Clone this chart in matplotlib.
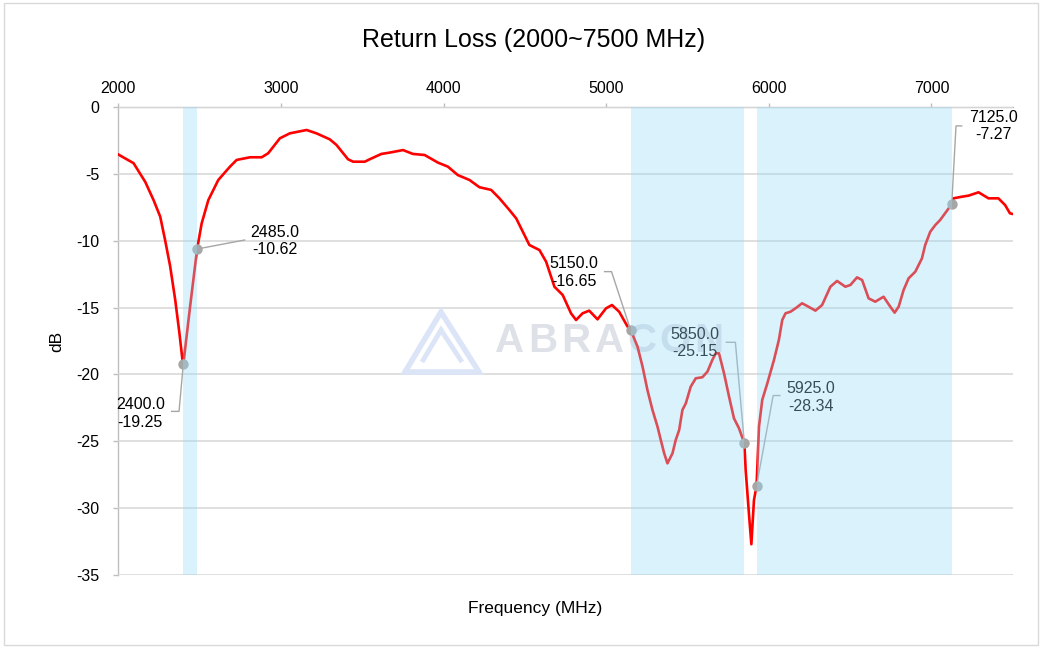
import matplotlib
matplotlib.use('Agg')
import matplotlib.pyplot as plt
from matplotlib.transforms import ScaledTranslation
from matplotlib.patches import Rectangle, Polygon

# ---------------- data ----------------
freq_mhz = [2000, 2094, 2166, 2217, 2258, 2288, 2319, 2350, 2376, 2397, 2400,
            2442, 2485, 2513, 2554, 2615, 2687, 2728, 2810, 2882, 2922, 2994,
            3055, 3158, 3219, 3301, 3342, 3413, 3444, 3516, 3546, 3618, 3669,
            3751, 3812, 3884, 3966, 4027, 4088, 4160, 4221, 4293, 4344, 4405,
            4447, 4487, 4528, 4590, 4631, 4682, 4733, 4784, 4815, 4855, 4896,
            4947, 4999, 5036, 5080, 5132, 5150, 5193, 5224, 5254, 5285, 5316,
            5336, 5357, 5377, 5408, 5428, 5449, 5469, 5490, 5520, 5551, 5592,
            5623, 5653, 5674, 5694, 5725, 5756, 5786, 5817, 5850, 5858, 5878,
            5893, 5909, 5925, 5940, 5960, 5991, 6032, 6062, 6083, 6103, 6134,
            6164, 6205, 6236, 6287, 6328, 6379, 6420, 6471, 6502, 6543, 6574,
            6614, 6655, 6706, 6747, 6774, 6799, 6829, 6860, 6901, 6942, 6962,
            6993, 7024, 7054, 7125, 7136, 7187, 7228, 7290, 7351, 7412, 7453,
            7483, 7500]
return_loss_db = [-3.55, -4.2, -5.6, -6.96, -8.2, -9.95, -11.9, -14.4, -16.9, -19.15, -19.25,
                  -14.9, -10.62, -8.7, -6.96, -5.46, -4.46, -3.96, -3.76, -3.76, -3.46, -2.34,
                  -1.97, -1.72, -1.97, -2.42, -2.84, -3.91, -4.09, -4.09, -3.91, -3.51, -3.41,
                  -3.22, -3.51, -3.59, -4.16, -4.46, -5.09, -5.46, -6.0, -6.2, -6.83, -7.70,
                  -8.33, -9.32, -10.32, -10.7, -11.57, -13.44, -14.06, -15.43, -15.93, -15.43, -15.23,
                  -15.88, -15.06, -14.81, -15.31, -16.43, -16.65, -17.92, -19.42, -21.17, -22.66, -23.91,
                  -24.9, -25.9, -26.65, -25.9, -24.9, -24.16, -22.66, -22.16, -20.92, -20.29, -20.21,
                  -19.79, -18.92, -18.42, -18.42, -19.92, -21.67, -23.28, -24.03, -25.15, -27.15, -30.39,
                  -32.7, -29.4, -28.34, -23.9, -21.9, -20.67, -18.92, -17.43, -15.93, -15.43, -15.31,
                  -15.06, -14.68, -14.88, -15.23, -14.81, -13.44, -13.01, -13.44, -13.31, -12.74, -12.94,
                  -14.31, -14.56, -14.19, -14.93, -15.38, -14.93, -13.69, -12.81, -12.32, -11.32, -10.32,
                  -9.33, -8.83, -8.45, -7.27, -6.83, -6.71, -6.63, -6.38, -6.83, -6.83, -7.33,
                  -7.95, -8.0]

band_starts = [2400, 5150, 5925]
band_ends = [2485, 5850, 7125]

marker_freqs = [2400.0, 2485.0, 5150.0, 5850.0, 5925.0, 7125.0]
marker_values = [-19.25, -10.62, -16.65, -25.15, -28.34, -7.27]

x_ticks = [2000, 3000, 4000, 5000, 6000, 7000]
y_ticks = [0, -5, -10, -15, -20, -25, -30, -35]

title = "Return Loss (2000~7500 MHz)"
x_label = "Frequency (MHz)"
y_label = "dB"

# label layout: pixel offsets from each marker (text centre, leader vertices)
label_text_offsets = [(-43, -49), (77.5, 8), (-56.5, 57), (-49.5, 100), (54, 88.4), (41.3, 78)]
label_leaders = [[(-4.3, -47), (-11.6, -47)],
                 [(47.5, 9)],
                 [(-19, 58), (-26, 58)],
                 [(-9, 101), (-18, 101)],
                 [(16.6, 90.4), (23.3, 90.4)],
                 [(4.3, 78.3), (10, 78.3)]]

# ---------------- figure ----------------
W, H = 1042, 648
plt.rcParams['font.family'] = ['Liberation Sans', 'DejaVu Sans']
fig = plt.figure(figsize=(W / 100, H / 100), dpi=100)
fig.patch.set_facecolor('white')
fig.add_artist(Rectangle((4 / W, 3 / H), (1038 - 4) / W, (645 - 3) / H,
                         transform=fig.transFigure, fill=False,
                         edgecolor='#d9d9d9', lw=1.0))

ax_l, ax_r, ax_t, ax_b = 118.25, 1012.7, 107, 575
ax = fig.add_axes([ax_l / W, 1 - ax_b / H, (ax_r - ax_l) / W, (ax_b - ax_t) / H])
ax.set_xlim(2000, 7500)
ax.set_ylim(-35, 0)

# watermark
wm_color = '#dfe1e8'
for i, ch in enumerate("ABRACON"):
    px = 493 + 16.5 + 33.2 * i
    ax.text((px - ax_l) / (ax_r - ax_l), (ax_b - 341) / (ax_b - ax_t), ch,
            transform=ax.transAxes, ha='center', va='center',
            fontsize=29, fontweight='bold', color=wm_color, zorder=1.2)
logo_c = '#dce5f7'
def pxpt(x, y):
    return ((x - ax_l) / (ax_r - ax_l), (ax_b - y) / (ax_b - ax_t))
outer = [pxpt(405, 372), pxpt(441, 312), pxpt(479, 372)]
ax.add_patch(Polygon(outer, closed=True, fill=False, edgecolor=logo_c, lw=4,
                     transform=ax.transAxes, zorder=1.1, joinstyle='miter'))
inner = [pxpt(422, 362), pxpt(441, 330), pxpt(462, 362)]
ax.add_patch(Polygon(inner, closed=False, fill=False, edgecolor=logo_c, lw=3.5,
                     transform=ax.transAxes, zorder=1.1))

# grid & spines
ax.set_axisbelow(True)
ax.yaxis.grid(True, color='#d9d9d9', lw=1.2, zorder=0)
ax.xaxis.grid(False)
for s in ['right', 'bottom']:
    ax.spines[s].set_visible(False)
for s in ['left', 'top']:
    ax.spines[s].set_color('#bfbfbf')
    ax.spines[s].set_linewidth(1.0)
    ax.spines[s].set_zorder(0.5)

ax.xaxis.tick_top()
ax.set_xticks(x_ticks)
ax.set_yticks(y_ticks)
ax.set_yticklabels([str(v) for v in y_ticks])
ax.tick_params(axis='x', direction='out', length=3, color='#bfbfbf', width=1,
               labelsize=11.5, pad=5, labelcolor='#000000')
ax.tick_params(axis='y', direction='out', length=3.6, color='#bfbfbf', width=1,
               labelsize=11.5, pad=10, labelcolor='#000000')

# curve
ax.plot(freq_mhz, return_loss_db, color='#ff0000', lw=1.9, zorder=2,
        solid_joinstyle='round')

# markers, leaders, labels
for f, v, toff, lead in zip(marker_freqs, marker_values, label_text_offsets, label_leaders):
    tr = fig.dpi_scale_trans + ScaledTranslation(f, v, ax.transData)
    xs = [0] + [p[0] / 100 for p in lead]
    ys = [0] + [p[1] / 100 for p in lead]
    ax.plot(xs, ys, color='#a6a6a6', lw=1.0, transform=tr, zorder=3, clip_on=False)
    ax.plot([f], [v], 'o', ms=7.5, color='#a6a6a6', mec='none', zorder=4)
    ax.text(toff[0] / 100, toff[1] / 100, f"{f:.1f}\n{v:.2f}", transform=tr,
            ha='center', va='center', multialignment='center',
            fontsize=11.5, color='#000000', linespacing=1.2, zorder=3)

# frequency bands overlay
for a, b in zip(band_starts, band_ends):
    ax.axvspan(a, b, color=(153 / 255, 219 / 255, 246 / 255), alpha=0.36,
               lw=0, zorder=6)

# texts
fig.text(534 / W, 1 - 40 / H, title, ha='center', va='center', fontsize=18, color='#000000')
fig.text(535 / W, 1 - 609 / H, x_label, ha='center', va='center', fontsize=12.5, color='#000000')
fig.text(57 / W, 1 - 341 / H, y_label, ha='center', va='center', rotation=90,
         fontsize=12.5, color='#000000')

fig.savefig('out.png', dpi=100, facecolor='white')
